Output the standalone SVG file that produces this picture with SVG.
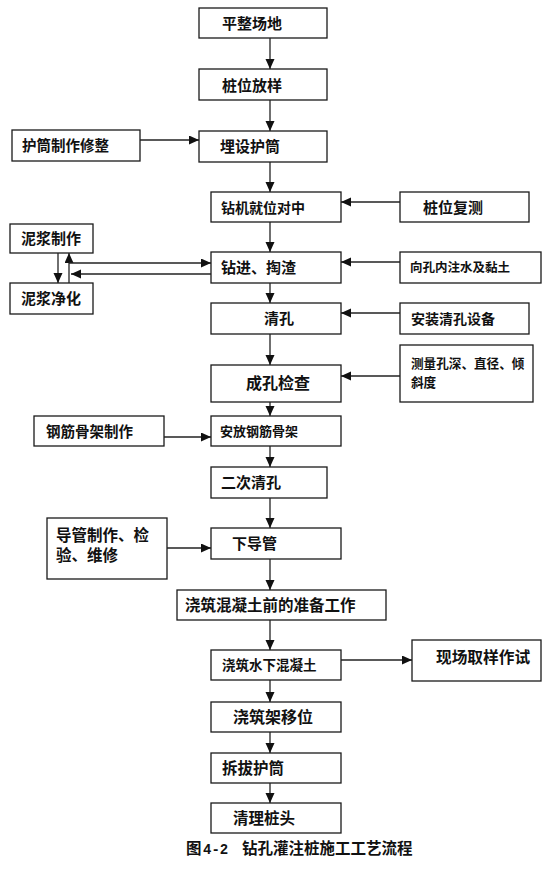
<svg xmlns="http://www.w3.org/2000/svg" width="555" height="871" viewBox="0 0 555 871">
<style>
rect{fill:#fff;stroke:#1a1a1a;stroke-width:1.3}
text{font-family:"Noto Sans CJK SC","Liberation Sans",sans-serif;font-weight:bold;fill:#111;font-size:15px}
.c line{stroke:#222;stroke-width:1.3;marker-end:url(#ah)}
</style>
<defs>
<marker id="ah" markerUnits="userSpaceOnUse" markerWidth="11" markerHeight="10" refX="10" refY="4.5" orient="auto">
<path d="M0,0 L10,4.5 L0,9 z" fill="#111"/>
</marker>
</defs>
<rect x="0" y="0" width="555" height="871" style="stroke:none"/>
<g id="n1"><rect x="199" y="8" width="128" height="30"/><text x="222" y="29">平整场地</text></g>
<g id="n2"><rect x="199" y="69" width="128" height="31"/><text x="222" y="90.5">桩位放样</text></g>
<g id="n3"><rect x="199" y="131" width="128" height="31"/><text x="220" y="152">埋设护筒</text></g>
<g id="s1"><rect x="12" y="130" width="128" height="31"/><text x="22" y="151" style="font-size:14.5px">护筒制作修整</text></g>
<g id="n4"><rect x="211" y="192" width="130" height="30"/><text x="221" y="212.5" style="font-size:14px">钻机就位对中</text></g>
<g id="s2"><rect x="400" y="192" width="129" height="30"/><text x="423" y="213">桩位复测</text></g>
<g id="n5"><rect x="211" y="252" width="130" height="31"/><text x="221" y="273">钻进、掏渣</text></g>
<g id="s3"><rect x="400" y="252" width="141" height="31"/><text x="410" y="272" style="font-size:12.5px">向孔内注水及黏土</text></g>
<g id="m1"><rect x="10" y="224" width="83" height="29"/><text x="21" y="243.5">泥浆制作</text></g>
<g id="m2"><rect x="10" y="283" width="83" height="31"/><text x="21" y="303.5">泥浆净化</text></g>
<g id="n6"><rect x="211" y="303" width="130" height="31"/><text x="264" y="324">清孔</text></g>
<g id="s4"><rect x="400" y="303" width="129" height="31"/><text x="411" y="323.5" style="font-size:14px">安装清孔设备</text></g>
<g id="n7"><rect x="211" y="365" width="130" height="37"/><text x="246" y="389" style="font-size:16px">成孔检查</text></g>
<g id="s5"><rect x="400" y="345" width="133" height="57"/><text x="411" y="368" style="font-size:12.6px">测量孔深、直径、倾</text><text x="411" y="387" style="font-size:12.6px">斜度</text></g>
<g id="n8"><rect x="211" y="416" width="130" height="30"/><text x="220" y="436" style="font-size:13px">安放钢筋骨架</text></g>
<g id="s6"><rect x="34" y="416" width="130" height="30"/><text x="46" y="436.5" style="font-size:14.5px">钢筋骨架制作</text></g>
<g id="n9"><rect x="211" y="467" width="116" height="31"/><text x="221" y="488">二次清孔</text></g>
<g id="n10"><rect x="211" y="528" width="130" height="31"/><text x="232" y="549">下导管</text></g>
<g id="s7"><rect x="47" y="518" width="120" height="61"/><text x="56" y="541" style="font-size:15.5px">导管制作、检</text><text x="56" y="561" style="font-size:15.5px">验、维修</text></g>
<g id="n11"><rect x="177" y="590" width="209" height="30"/><text x="185" y="610.5" style="font-size:15.5px">浇筑混凝土前的准备工作</text></g>
<g id="n12"><rect x="211" y="650" width="130" height="30"/><text x="222" y="670" style="font-size:13.5px">浇筑水下混凝土</text></g>
<g id="s8"><rect x="412" y="640" width="129" height="41"/><text x="436" y="663" style="font-size:15.7px">现场取样作试</text></g>
<g id="n13"><rect x="211" y="702" width="130" height="30"/><text x="233" y="723" style="font-size:16px">浇筑架移位</text></g>
<g id="n14"><rect x="211" y="753" width="130" height="30"/><text x="222" y="774" style="font-size:15.5px">拆拔护筒</text></g>
<g id="n15"><rect x="211" y="803" width="130" height="30"/><text x="233" y="824" style="font-size:15.5px">清理桩头</text></g>
<g id="caption"><text y="854" style="font-size:15.5px"><tspan x="186">图</tspan><tspan x="203" style="font-family:'Liberation Mono',monospace;font-size:14px">4-2</tspan><tspan x="242">钻孔灌注桩施工工艺流程</tspan></text></g>
<g id="connectors" class="c">
<line x1="270" y1="38" x2="270" y2="69"/>
<line x1="270" y1="100" x2="270" y2="131"/>
<line x1="140" y1="140" x2="199" y2="140"/>
<line x1="270" y1="162" x2="270" y2="192"/>
<line x1="400" y1="202" x2="341" y2="202"/>
<line x1="270" y1="222" x2="270" y2="252"/>
<line x1="400" y1="262" x2="341" y2="262"/>
<line x1="58" y1="253" x2="58" y2="283"/>
<line x1="69" y1="283" x2="69" y2="253"/>
<line x1="69" y1="263" x2="211" y2="263"/>
<line x1="211" y1="274" x2="71" y2="274"/>
<line x1="270" y1="283" x2="270" y2="303"/>
<line x1="400" y1="313" x2="341" y2="313"/>
<line x1="270" y1="334" x2="270" y2="365"/>
<line x1="400" y1="376" x2="341" y2="376"/>
<line x1="270" y1="402" x2="270" y2="416"/>
<line x1="164" y1="437" x2="211" y2="437"/>
<line x1="270" y1="446" x2="270" y2="467"/>
<line x1="270" y1="498" x2="270" y2="528"/>
<line x1="167" y1="548" x2="211" y2="548"/>
<line x1="270" y1="559" x2="270" y2="590"/>
<line x1="270" y1="620" x2="270" y2="650"/>
<line x1="341" y1="660" x2="412" y2="660"/>
<line x1="270" y1="680" x2="270" y2="702"/>
<line x1="270" y1="732" x2="270" y2="753"/>
<line x1="270" y1="783" x2="270" y2="803"/>
</g>
</svg>
